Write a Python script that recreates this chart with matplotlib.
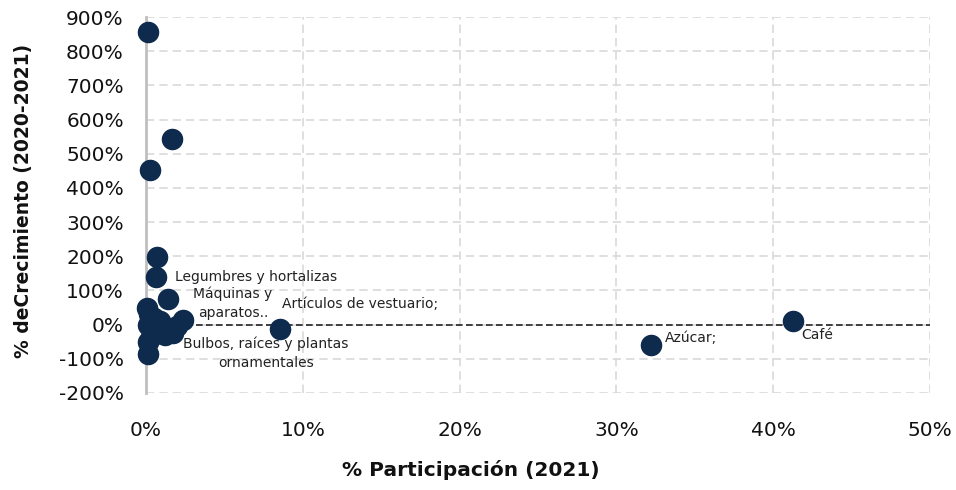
import numpy as np
import matplotlib.pyplot as plt
from matplotlib.ticker import FuncFormatter

# % participacion 2021 (x) y % crecimiento 2020-2021 (y)
participacion = [0.10, 1.66, 0.25, 0.70, 0.64, 1.40, 2.36, 8.55, 32.2, 41.26, 0.10,
                 0.05, 0.20, 0.50, 0.10, 0.40, 0.80, 1.20, 1.70, 1.00, 2.00, 0.15,
                 0.30, 0.90]
crecimiento = [856, 543, 452, 197, 139, 75, 14, -13, -60, 11, -86,
               50, 30, 20, 0, -10, -20, -30, -25, 0, -5, -50,
               -35, 10]

etiquetas = ["Legumbres y hortalizas", "Máquinas y\naparatos..", "Artículos de vestuario;",
             "Bulbos, raíces y plantas\nornamentales", "Azúcar;", "Café"]
etiqueta_x = [1.85, 5.55, 8.7, 7.65, 33.1, 41.8]
etiqueta_y = [139, 62, 59, -83, -39, -30]
etiqueta_ha = ["left", "center", "left", "center", "left", "left"]

plt.rcParams['font.family'] = ['DejaVu Sans']

fig = plt.figure(figsize=(9.56, 4.90), dpi=100)
ax = fig.add_axes([0.1527, 0.198, 0.8201, 0.7673])

navy = '#0e2a4d'
ax.scatter(participacion, crecimiento, s=210, color=navy, zorder=3, clip_on=False)
ax.axhline(0, color='#222222', ls='--', lw=1.2, dashes=(4, 2), zorder=2)

for t, x, y, ha in zip(etiquetas, etiqueta_x, etiqueta_y, etiqueta_ha):
    ax.text(x, y, t, ha=ha, va='center', fontsize=10, color='#222222',
            linespacing=1.45, zorder=4)

ax.set_xlim(0, 50)
ax.set_ylim(-200, 900)
ax.set_xticks(np.arange(0, 51, 10))
ax.set_yticks(np.arange(-200, 901, 100))
ax.xaxis.set_major_formatter(FuncFormatter(lambda v, p: f"{v:.0f}%"))
ax.yaxis.set_major_formatter(FuncFormatter(lambda v, p: f"{v:.0f}%"))
ax.tick_params(length=0, labelsize=14.5, colors='#111111')
ax.tick_params(axis='y', pad=16)
ax.tick_params(axis='x', pad=20)

ax.grid(True, color='#d9d9d9', ls='--', lw=1.2, dashes=(5, 3))
ax.set_axisbelow(True)
for side in ['top', 'right', 'bottom']:
    ax.spines[side].set_visible(False)
ax.spines['left'].set_color('#bfbfbf')
ax.spines['left'].set_linewidth(2)

fig.text(0.025, 0.59, "% deCrecimiento (2020-2021)", rotation=90, ha='center', va='center',
         fontsize=13.5, fontweight='bold', color='#111111')
fig.text(0.493, 0.04, "% Participación (2021)", ha='center', va='center',
         fontsize=14.5, fontweight='bold', color='#111111')

fig.savefig('out.png', dpi=100)
